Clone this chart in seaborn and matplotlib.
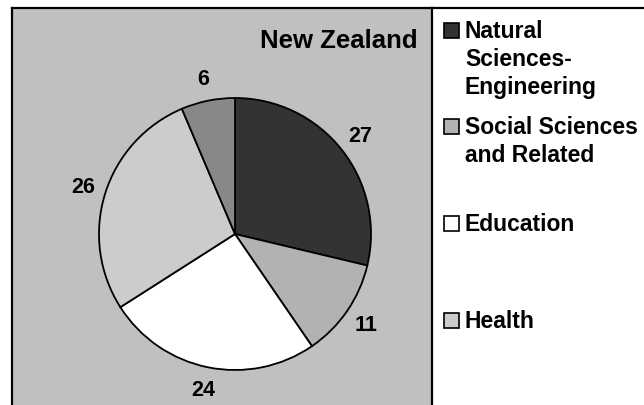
import matplotlib
matplotlib.use("Agg")
import seaborn as sns
import matplotlib.pyplot as plt
from matplotlib.patches import Rectangle

# data
categories = ["Natural Sciences-Engineering", "Social Sciences and Related",
              "Education", "Health", "Other"]
values = [27, 11, 24, 26, 6]
colors = ["#333333", "#b2b2b2", "#ffffff", "#cccccc", "#888888"]
# the legend in the original only shows the first four, wrapped like this
legend_lines = [["Natural", "Sciences-", "Engineering"],
                ["Social Sciences", "and Related"],
                ["Education"],
                ["Health"]]
title = "New Zealand"

sns.set_theme(style="white")
plt.rcParams["font.family"] = ["Liberation Sans", "DejaVu Sans"]

W, H = 644, 406
fig = plt.figure(figsize=(W / 100, H / 100), dpi=100)
fig.patch.set_facecolor("white")


def fx(px):
    return px / W


def fy(py):
    return 1 - py / H


top = 8.5
left, sep = 12, 432

# grey pie panel
ax = fig.add_axes([fx(left), 0, fx(sep) - fx(left), 1 - top / H])
ax.set_zorder(2)
total = sum(values)
wedges, texts, autotexts = ax.pie(
    values, colors=colors, startangle=90, counterclock=False,
    autopct=lambda p: f"{p * total / 100:.0f}", pctdistance=1.17,
    wedgeprops=dict(edgecolor="black", linewidth=1.3),
    textprops=dict(fontsize=15.5, fontweight="bold", color="black"))

R = 136.0
ax_w, ax_h = sep - left, H - top
cx, cy = 235 - left, 235 - top
ax.set_aspect("auto")
ax.set_xlim(-cx / R, (ax_w - cx) / R)
ax.set_ylim(-(ax_h - cy) / R, cy / R)
ax.set_frame_on(True)
ax.set_facecolor("#c0c0c0")
for name, sp in ax.spines.items():
    sp.set_visible(name != "bottom")
    sp.set_color("black")
    sp.set_linewidth(1.6)

fig.text(fx(418), fy(47.7), title, ha="right", va="baseline",
         fontsize=18.5, fontweight="bold", color="black", zorder=5)

# white legend panel
lax = fig.add_axes([fx(sep), 0, 1 - fx(sep) + 0.05, 1 - top / H])
lax.set_zorder(1)
lax.set_xticks([])
lax.set_yticks([])
for name, sp in lax.spines.items():
    sp.set_visible(name == "top")
    sp.set_color("black")
    sp.set_linewidth(1.6)

baselines = [38.3, 134.3, 231, 327.7]
step = 28
for lines, col, base in zip(legend_lines, colors, baselines):
    fig.add_artist(Rectangle((fx(443.5), fy(base + 1)), 15 / W, 15 / H,
                             transform=fig.transFigure, facecolor=col,
                             edgecolor="black", linewidth=1.2, zorder=5))
    for i, line in enumerate(lines):
        fig.text(fx(465), fy(base + i * step), line, ha="left", va="baseline",
                 fontsize=16.5, fontweight="bold", color="black", zorder=5)

fig.savefig("out.png", dpi=100)
